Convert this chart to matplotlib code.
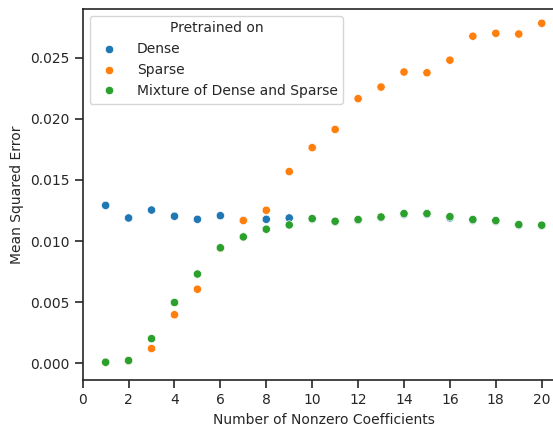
import matplotlib
matplotlib.use('Agg')
import matplotlib.pyplot as plt
import pandas as pd
import seaborn as sns

# values
n_coeffs = list(range(1, 21))
dense = [0.01292, 0.01189, 0.01254, 0.01203, 0.01178, 0.01208, 0.01170, 0.01178, 0.01189, 0.01180,
         0.01158, 0.01172, 0.01192, 0.01218, 0.01220, 0.01190, 0.01170, 0.01162, 0.01130, 0.01126]
sparse = [0.00005, 0.00018, 0.00120, 0.00397, 0.00606, 0.00940, 0.01168, 0.01252, 0.01569, 0.01765,
          0.01914, 0.02166, 0.02261, 0.02384, 0.02378, 0.02481, 0.02677, 0.02701, 0.02695, 0.02783]
mixture = [0.00008, 0.00022, 0.00201, 0.00497, 0.00730, 0.00945, 0.01034, 0.01097, 0.01132, 0.01184,
           0.01162, 0.01176, 0.01197, 0.01225, 0.01225, 0.01200, 0.01176, 0.01168, 0.01135, 0.01130]
labels = ['Dense', 'Sparse', 'Mixture of Dense and Sparse']

df = pd.DataFrame({
    'k': n_coeffs * 3,
    'mse': dense + sparse + mixture,
    'Pretrained on': [labels[0]] * 20 + [labels[1]] * 20 + [labels[2]] * 20,
})

sns.set_style('ticks')
plt.rcParams['font.family'] = ['DejaVu Sans']
plt.rcParams['font.size'] = 10

fig = plt.figure(figsize=(5.53, 4.28), dpi=100)
ax = fig.add_axes([0.1495, 0.112, 0.8716, 0.867])
sns.scatterplot(data=df, x='k', y='mse', hue='Pretrained on', ax=ax, s=36)

ax.set_xlim(0, 21)
ax.set_xticks(range(0, 21, 2))
ax.set_yticks([0.0, 0.005, 0.010, 0.015, 0.020, 0.025])
ax.set_ylim(-0.00138, 0.0290)
ax.set_xlabel('Number of Nonzero Coefficients', fontsize=10)
ax.set_ylabel('Mean Squared Error', fontsize=10)
ax.tick_params(labelsize=10, length=6, width=1.2)
for sp in ax.spines.values():
    sp.set_linewidth(1.2)

leg = ax.legend(title='Pretrained on', loc='upper left', fontsize=10, title_fontsize=10,
                handletextpad=1.0)

fig.savefig('out.png', dpi=100)
